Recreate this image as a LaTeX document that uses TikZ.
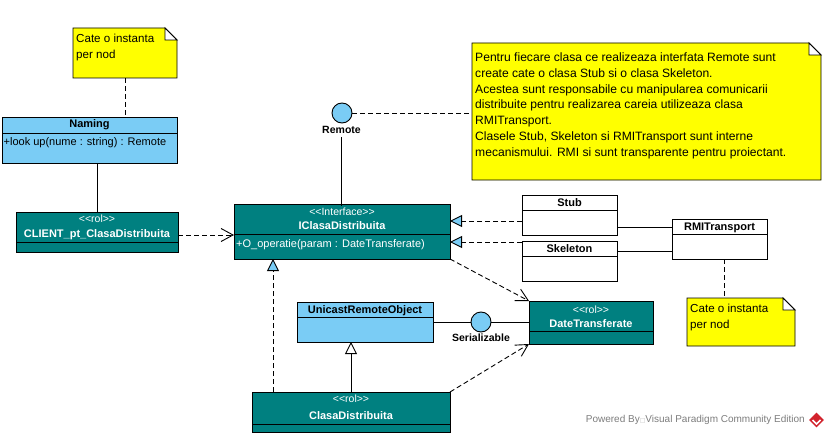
\documentclass[tikz,border=0pt]{standalone}
\usepackage{fontspec}
\setmainfont{Liberation Sans}
\newfontfamily\dejavu{DejaVu Sans}
\usetikzlibrary{arrows.meta,calc,shapes.geometric}
\definecolor{vpteal}{RGB}{0,128,128}
\definecolor{vpblue}{RGB}{122,204,245}
\definecolor{vpyellow}{RGB}{255,255,0}
\definecolor{wmgray}{RGB}{125,125,125}
\definecolor{logored}{RGB}{210,35,45}
\newcommand{\vpnote}[1]{%
  \filldraw[notefill] (#1.north west) -- ([xshift=-12pt]#1.north east) -- ([yshift=-12pt]#1.north east) -- (#1.south east) -- (#1.south west) -- cycle;
  \filldraw[line width=0.9pt, fill=white] ([xshift=-12pt]#1.north east) -- ([xshift=-12pt,yshift=-12pt]#1.north east) -- ([yshift=-12pt]#1.north east) -- cycle;
}
\begin{document}
\begin{tikzpicture}[x=1pt,y=-1pt,
  cls/.style={draw=black, line width=0.9pt, inner sep=0pt, outer sep=0pt, anchor=north west},
  tclass/.style={cls, fill=vpteal},
  bclass/.style={cls, fill=vpblue},
  wclass/.style={cls, fill=white},
  notebox/.style={inner sep=0pt, outer sep=0pt, anchor=north west},
  notefill/.style={draw=black, line width=0.9pt, fill=vpyellow},
  lbl/.style={inner sep=0pt, font=\fontsize{11}{13}\selectfont, text height=8pt, text depth=2pt},
  lblb/.style={lbl, font=\fontsize{11}{13}\selectfont\bfseries},
  ilbl/.style={lbl, font=\fontsize{10.5}{12}\selectfont\bfseries},
  stereo/.style={lbl, font=\fontsize{10.5}{12}\selectfont},
  notetxt/.style={inner sep=0pt, anchor=north west, align=left},
  divline/.style={line width=0.9pt},
  dep/.style={line width=0.9pt, dash pattern=on 5pt off 3pt, -{Straight Barb[length=12pt,width=13pt]}},
  real/.style={line width=0.9pt, dash pattern=on 5pt off 3pt, -{Triangle[length=12pt,width=12pt,fill=vpblue]}},
  gen/.style={line width=0.9pt, -{Triangle[length=12pt,width=12pt,fill=white]}},
  assoc/.style={line width=0.9pt},
  anchorline/.style={line width=0.9pt, dash pattern=on 5pt off 3pt},
  iface/.style={circle, draw=black, line width=0.9pt, fill=vpblue, minimum size=20pt, inner sep=0pt},
]
\useasboundingbox (0,0) rectangle (828,436);
\fill[white] (0,0) rectangle (828,436);

% ---- note 1
\node[notebox, minimum width=104pt, minimum height=50pt] (note1) at (73,28) {};
\vpnote{note1}
\node[notetxt, font=\fontsize{11.6}{16}\selectfont] (note1txt) at (76,33.5) {Cate o instanta\\per nod};

% ---- Naming
\node[bclass, minimum width=175pt, minimum height=46pt] (naming) at (2,117) {};
\draw[divline] (2,133) -- (177,133);
\node[lblb] (namingname) at (89.5,125) {Naming};
\node[lbl, anchor=west] (namingop) at (3.5,142) {+look up(nume : string) : Remote};

% ---- CLIENT
\node[tclass, minimum width=162pt, minimum height=40pt] (client) at (16,212) {};
\draw[divline] (16,242) -- (178,242);
\node[stereo, white] (clientst) at (97,219) {<\kern0pt<rol>\kern0pt>};
\node[lblb, white] (clientname) at (97,234) {CLIENT\_pt\_ClasaDistribuita};

% ---- IClasaDistribuita
\node[tclass, minimum width=216pt, minimum height=55pt] (icl) at (234,204) {};
\draw[divline] (234,234) -- (450,234);
\node[stereo, white] (iclst) at (342,212.5) {<\kern0pt<Interface>\kern0pt>};
\node[lblb, white] (iclname) at (342,226.5) {IClasaDistribuita};
\node[lbl, white, anchor=west] (iclop) at (236,244) {+O\_operatie(param : DateTransferate)};

% ---- Remote interface
\node[iface] (remote) at (342,113) {};
\node[ilbl] (remlbl) at (341.5,130) {Remote};

% ---- big note
\node[notebox, minimum width=349pt, minimum height=137pt] (note2) at (472,43) {};
\vpnote{note2}
\node[notetxt, font=\fontsize{12.1}{15.8}\selectfont] (note2txt) at (475,52.5) {Pentru fiecare clasa ce realizeaza interfata Remote sunt\\create cate o clasa Stub si o clasa Skeleton.\\Acestea sunt responsabile cu manipularea comunicarii\\distribuite pentru realizarea careia utilizeaza clasa\\RMITransport.\\Clasele Stub, Skeleton si RMITransport sunt interne\\mecanismului. RMI si sunt transparente pentru proiectant.};

% ---- Stub, Skeleton, RMITransport
\node[wclass, minimum width=95pt, minimum height=40pt] (stub) at (522,195) {};
\draw[divline] (522,210) -- (617,210);
\node[lblb] (stubname) at (569.5,203) {Stub};
\node[wclass, minimum width=95pt, minimum height=40pt] (skel) at (522,241) {};
\draw[divline] (522,256) -- (617,256);
\node[lblb] (skelname) at (569.5,249.5) {Skeleton};
\node[wclass, minimum width=95pt, minimum height=40pt] (rmi) at (672,219) {};
\draw[divline] (672,234) -- (767,234);
\node[lblb] (rminame) at (719.5,227) {RMITransport};

% ---- note 3
\node[notebox, minimum width=108pt, minimum height=48pt] (note3) at (687,298) {};
\vpnote{note3}
\node[notetxt, font=\fontsize{11.6}{16}\selectfont] (note3txt) at (690,304) {Cate o instanta\\per nod};

% ---- DateTransferate
\node[tclass, minimum width=124pt, minimum height=43pt] (dt) at (529,301) {};
\draw[divline] (529,331) -- (653,331);
\node[stereo, white] (dtst) at (591,310) {<\kern0pt<rol>\kern0pt>};
\node[lblb, white] (dtname) at (591,324) {DateTransferate};

% ---- UnicastRemoteObject
\node[bclass, minimum width=136pt, minimum height=40pt] (uro) at (297,302) {};
\draw[divline] (297,317) -- (433,317);
\node[lblb] (uroname) at (365,310.5) {UnicastRemoteObject};

% ---- Serializable
\node[iface] (ser) at (481,322) {};
\node[ilbl] (serlbl) at (481,338) {Serializable};

% ---- ClasaDistribuita
\node[tclass, minimum width=198pt, minimum height=40pt] (cd) at (252,392) {};
\draw[divline] (252,424.5) -- (450,424.5);
\node[stereo, white] (cdst) at (351,399.5) {<\kern0pt<rol>\kern0pt>};
\node[lblb, white] (cdname) at (351,416) {ClasaDistribuita};

% ---- connectors
\draw[anchorline] (note1.south) -- (note1.south |- naming.north);
\draw[assoc] (client.north) -- (client.north |- naming.south);
\draw[dep] ([yshift=-3pt]client.east) -- ([yshift=-3pt]client.east -| icl.west);
\draw[assoc] ([yshift=-2pt]remlbl.south) -- ([yshift=-2pt]remlbl.south |- icl.north);
\draw[anchorline] (remote.east) -- (remote.east -| note2.west);
\draw[real] ([yshift=-6pt]stub.west) -- ([yshift=-6pt]stub.west -| icl.east);
\draw[real] ([yshift=19pt]skel.west) -- ([yshift=19pt]skel.west -| icl.east);
\draw[assoc] ([yshift=-12pt]stub.east) -- ([yshift=-12pt]stub.east -| rmi.west);
\draw[assoc] ([yshift=10pt]skel.east) -- ([yshift=10pt]skel.east -| rmi.west);
\draw[anchorline] ([xshift=5pt]rmi.south) -- ([xshift=5pt]rmi.south |- note3.north);
\draw[dep] (icl.south east) -- (dt.north west);
\draw[dep] (cd.north east) -- (dt.south west);
\draw[real] ([xshift=21pt]cd.north west) -- ([xshift=21pt]cd.north west |- icl.south);
\draw[gen] (cd.north) -- (cd.north |- uro.south);
\draw[assoc] (uro.east) -- (ser.west);
\draw[assoc] (ser.east) -- (ser.east -| dt.west);

% ---- watermark
\node[inner sep=0pt, anchor=east, text=wmgray, font=\fontsize{10}{12}\selectfont] (wm) at (805,420) {Powered By\textcolor{wmgray!50}{\dejavu\fontsize{6}{7}\selectfont □}Visual Paradigm Community Edition};
\node[diamond, inner sep=0pt, minimum size=15pt, fill=logored, draw=none] (logo) at (816.5,420) {};
\draw[white, line width=1.6pt] ([xshift=-4pt]logo.center) -- ([yshift=-4pt]logo.center) -- ([xshift=4pt]logo.center);
\end{tikzpicture}
\end{document}
